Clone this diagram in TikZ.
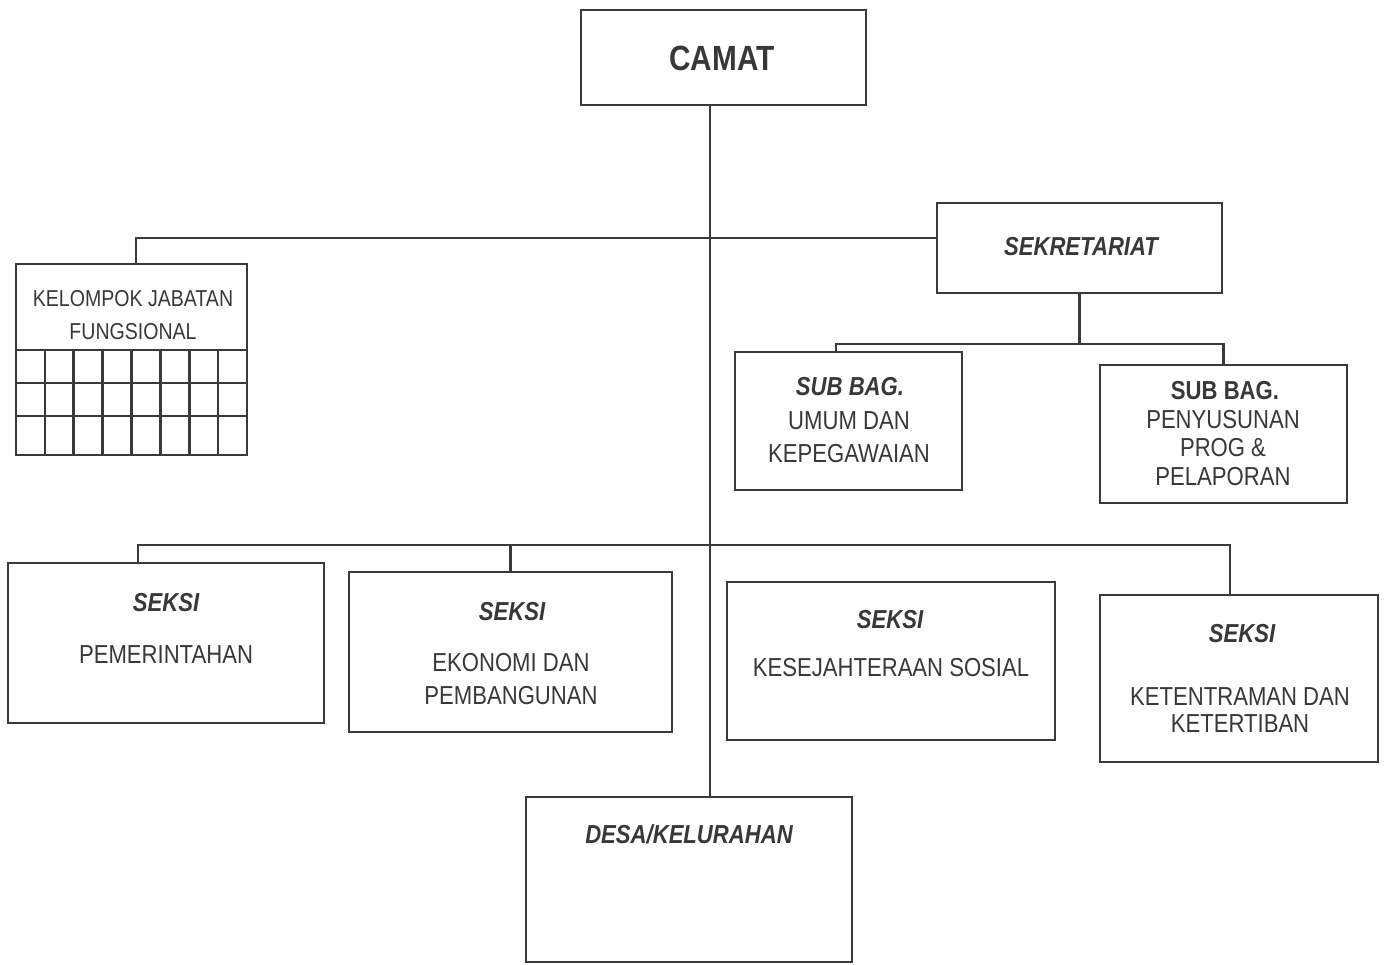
\documentclass[tikz,border=0pt]{standalone}
\usepackage{fontspec}
\setmainfont[FakeStretch=0.85]{Liberation Sans}
\definecolor{linec}{HTML}{3A3A3A}
\definecolor{textc}{HTML}{383838}
\begin{document}
\begin{tikzpicture}[x=1pt,y=-1pt,
  box/.style={draw=linec, line width=2.6pt, inner sep=0pt, fill=none},
  conn/.style={draw=linec, line width=2.6pt},
  lbl/.style={text=textc, inner sep=0pt, align=center, font=\fontsize{26}{29}\selectfont},
  ttl/.style={text=textc, inner sep=0pt, align=center, font=\bfseries\itshape\fontsize{26}{29}\selectfont},
  ttlb/.style={text=textc, inner sep=0pt, align=center, font=\bfseries\fontsize{26}{29}\selectfont}]
\useasboundingbox (0,0) rectangle (1386,965);

% boxes
\node[box, minimum width=285pt, minimum height=95pt] (camat) at (723.5,57.5) {};
\node[box, minimum width=231pt, minimum height=191pt] (kjf) at (131.5,359.5) {};
\node[box, minimum width=285pt, minimum height=90pt] (sek) at (1079.5,248) {};
\node[box, minimum width=227pt, minimum height=138pt] (sb1) at (848.5,421) {};
\node[box, minimum width=247pt, minimum height=138pt] (sb2) at (1223.5,434) {};
\node[box, minimum width=316pt, minimum height=160pt] (s1) at (166,643) {};
\node[box, minimum width=323pt, minimum height=160pt] (s2) at (510.5,652) {};
\node[box, minimum width=328pt, minimum height=158pt] (s3) at (891,661) {};
\node[box, minimum width=278pt, minimum height=167pt] (s4) at (1239,678.5) {};
\node[box, minimum width=326pt, minimum height=165pt] (desa) at (689,879.5) {};

% grid of kelompok jabatan fungsional
\foreach \yy in {350,383,416} \draw[conn] (16,\yy) -- (247,\yy);
\foreach \i in {1,...,7} \draw[conn] ({16+\i*28.875},350) -- ({16+\i*28.875},455);

% connectors
\coordinate (tx) at (710,0);
\draw[conn] (camat.south -| tx) -- (desa.north -| tx);
\coordinate (h1) at (0,238);
\coordinate (dk) at (136,0);
\draw[conn] (kjf.north -| dk) |- (h1 -| sek.west);
\coordinate (h2) at (0,344);
\draw[conn] (sek.south) -- (sek.south |- h2);
\coordinate (d1) at (836,0);
\draw[conn] (sb1.north -| d1) |- (h2 -| sb2.north) -- (sb2.north);
\coordinate (h3) at (0,545);
\coordinate (ds1) at (138,0);
\coordinate (ds4) at (1230,0);
\draw[conn] (s1.north -| ds1) |- (h3 -| ds4) -- (s4.north -| ds4);
\draw[conn] (s2.north) -- (s2.north |- h3);

% texts
\node[ttlb, font=\bfseries\fontsize{35}{40}\selectfont] (tcamat) at (722,58) {CAMAT};
\node[lbl, font=\fontsize{23}{33}\selectfont] (tkjf) at (133,315) {KELOMPOK JABATAN\\FUNGSIONAL};
\node[ttl] (tsek) at (1081,247) {SEKRETARIAT};
\node[ttl] (tsb1a) at (850,387) {SUB BAG.};
\node[lbl, font=\fontsize{26}{33}\selectfont] (tsb1b) at (849,437) {UMUM DAN\\KEPEGAWAIAN};
\node[ttlb] (tsb2a) at (1225,391) {SUB BAG.};
\node[lbl, font=\fontsize{26}{28.5}\selectfont] (tsb2b) at (1223,448) {PENYUSUNAN\\PROG \&\\PELAPORAN};
\node[ttl] (ts1a) at (166,603) {SEKSI};
\node[lbl] (ts1b) at (166,655) {PEMERINTAHAN};
\node[ttl] (ts2a) at (512,612) {SEKSI};
\node[lbl, font=\fontsize{26}{33}\selectfont] (ts2b) at (511,679) {EKONOMI DAN\\PEMBANGUNAN};
\node[ttl] (ts3a) at (890,620) {SEKSI};
\node[lbl] (ts3b) at (891,668) {KESEJAHTERAAN SOSIAL};
\node[ttl] (ts4a) at (1242,634) {SEKSI};
\node[lbl, font=\fontsize{26}{27}\selectfont] (ts4b) at (1240,710) {KETENTRAMAN DAN\\KETERTIBAN};
\node[ttl] (tdesa) at (689,834) {DESA/KELURAHAN};
\end{tikzpicture}
\end{document}
